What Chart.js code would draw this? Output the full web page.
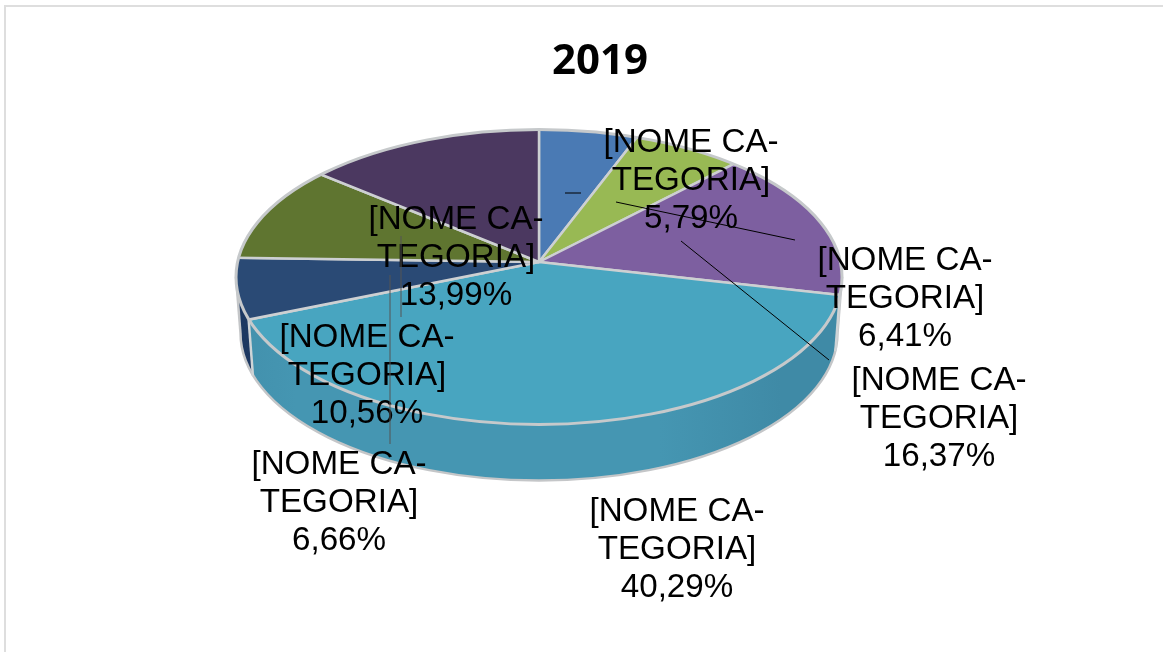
<!DOCTYPE html>
<html lang="en">
<head>
    <meta charset="UTF-8">
    <title>2019</title>
    <script src="https://cdn.jsdelivr.net/npm/chart.js"></script>
    <style>
        html, body {
            margin: 0;
            padding: 0;
            background: white;
            overflow: hidden;
            height: 652px;
        }
        #frame {
            position: absolute;
            left: 4px;
            top: 5px;
            right: 0;
            bottom: 0;
            border-left: 2px solid #dedede;
            border-top: 2px solid #dedede;
        }
        canvas {
            position: absolute;
            left: 0;
            top: 0;
        }
    </style>
</head>
<body>
    <div id="frame"></div>
    <canvas id="pieChart" width="1200" height="652"></canvas>

    <script>
        const chartTitle = '2019';
        const categories = ['[NOME CA-\nTEGORIA]', '[NOME CA-\nTEGORIA]', '[NOME CA-\nTEGORIA]', '[NOME CA-\nTEGORIA]', '[NOME CA-\nTEGORIA]', '[NOME CA-\nTEGORIA]', '[NOME CA-\nTEGORIA]'];
        const values = [5.79, 6.41, 16.37, 40.29, 6.66, 10.56, 13.99];
        const topColors = ['#4a7ab4', '#98b954', '#7d5fa0', '#48a5c0', '#2a4a75', '#5f7530', '#4b3860'];
        const sideColors = ['#3d659a', '#7f9c45', '#8a7f98', '#4596b2', '#1f3a63', '#4c5e26', '#3b2c4c'];

        // where things sit on the page
        const apexX = 539, apexY = 262;          // tip of the slices
        const discY = 277, discW = 303, discH = 147.5; // ellipse of the top face
        const wallDepth = 56, wallNarrow = 0.08;
        const labelSpots = [[691, 143], [905, 261], [939, 381], [677, 512], [339, 465], [367, 338], [456, 220]];
        const leaderLines = [
            [565, 193, 581, 193, '#000'], [616, 202, 795, 240, '#000'], [681, 241, 829, 360, '#000'],
            [401, 236, 401, 317, '#555'], [390, 275, 390, 444, '#555']
        ];

        // perspective of the tilted disc: the near side looks bigger, so slice angles shift on screen
        const tilt = -0.105, spreadX = 301.3, spreadY = 145.9;
        function rimPoint(a) {
            const u = Math.cos(a), v = Math.sin(a);
            const w = 1 + tilt * v;
            return [spreadX * u / w, spreadY * v / w];
        }

        // draws a slice oversized from the apex and lets the disc ellipse cut its outer edge
        function drawSlice(ctx, arc, depth) {
            ctx.save();
            ctx.beginPath();
            ctx.ellipse(apexX, discY + depth, discW - depth * wallNarrow, discH, 0, 0, Math.PI * 2);
            ctx.clip();
            ctx.translate(apexX - arc.x, apexY + depth - arc.y);
            arc.draw(ctx);
            ctx.restore();
        }

        function wallFill(ctx, i) {
            if (i !== 3) return sideColors[i];
            const g = ctx.createLinearGradient(apexX - discW, 0, apexX + discW, 0);
            g.addColorStop(0, '#3f8aa6');
            g.addColorStop(0.2, '#4596b2');
            g.addColorStop(0.8, '#4596b2');
            g.addColorStop(1, '#3f8aa6');
            return g;
        }

        function strokeDisc(ctx, depth, color, width) {
            ctx.strokeStyle = color;
            ctx.lineWidth = width;
            ctx.beginPath();
            ctx.ellipse(apexX, discY + depth, discW - depth * wallNarrow, discH, 0, 0, Math.PI * 2);
            ctx.stroke();
        }

        const tiltedPie = {
            id: 'tiltedPie',
            afterDatasetsUpdate(chart) {
                chart.getDatasetMeta(0).data.forEach(arc => {
                    arc.rimStart = rimPoint(arc.startAngle);
                    arc.rimEnd = rimPoint(arc.endAngle);
                    const start = Math.atan2(arc.rimStart[1], arc.rimStart[0]);
                    let end = Math.atan2(arc.rimEnd[1], arc.rimEnd[0]);
                    while (end < start) end += Math.PI * 2;
                    arc.startAngle = start;
                    arc.endAngle = end;
                    arc.circumference = end - start;
                });
            },
            beforeDatasetsDraw(chart) {
                const ctx = chart.ctx;
                const arcs = chart.getDatasetMeta(0).data;

                // side wall, stacked from the bottom up
                for (let d = wallDepth; d > 0; d--) {
                    arcs.forEach((arc, i) => {
                        const keep = arc.options;
                        arc.options = { ...keep, backgroundColor: wallFill(ctx, i), borderWidth: 0 };
                        drawSlice(ctx, arc, d);
                        arc.options = keep;
                    });
                }
                ctx.save();
                ctx.beginPath();
                ctx.rect(0, discY + wallDepth, 1200, 400);
                ctx.clip();
                strokeDisc(ctx, wallDepth, '#c4c6c8', 2.5);
                ctx.restore();
                // grey sides of the rim between top face and base
                ctx.strokeStyle = '#c4c6c8';
                ctx.lineWidth = 2.5;
                [-1, 1].forEach(side => {
                    ctx.beginPath();
                    ctx.moveTo(apexX + side * discW, discY);
                    ctx.lineTo(apexX + side * (discW - wallDepth * wallNarrow), discY + wallDepth);
                    ctx.stroke();
                });

                // light seam on the wall where the big slice begins and ends
                const big = arcs[3];
                [big.rimStart, big.rimEnd].forEach(([x, y]) => {
                    ctx.strokeStyle = '#cfd4d6';
                    ctx.lineWidth = 2.5;
                    ctx.beginPath();
                    ctx.moveTo(apexX + x, apexY + y);
                    ctx.lineTo(apexX + x * (discW - wallDepth * wallNarrow) / discW, apexY + y + wallDepth);
                    ctx.stroke();
                });

                // top face and its rim
                arcs.forEach(arc => drawSlice(ctx, arc, 0));
                strokeDisc(ctx, 0, '#c6c9cb', 3);

                // data labels and leader lines go on top
                ctx.save();
                ctx.fillStyle = '#000';
                ctx.font = '33.2px "Liberation Sans"';
                ctx.textAlign = 'center';
                ctx.textBaseline = 'middle';
                categories.forEach((cat, i) => {
                    const lines = cat.split('\n').concat(values[i].toFixed(2).replace('.', ',') + '%');
                    lines.forEach((line, n) => {
                        ctx.fillText(line, labelSpots[i][0], labelSpots[i][1] + n * 37.7);
                    });
                });
                ctx.lineWidth = 1;
                leaderLines.forEach(([x1, y1, x2, y2, color]) => {
                    ctx.strokeStyle = color;
                    ctx.beginPath();
                    ctx.moveTo(x1, y1);
                    ctx.lineTo(x2, y2);
                    ctx.stroke();
                });
                ctx.restore();
                return false;
            }
        };

        new Chart(document.getElementById('pieChart'), {
            type: 'pie',
            data: {
                labels: categories,
                datasets: [{
                    data: values,
                    backgroundColor: topColors,
                    borderColor: '#cdd0d2',
                    borderWidth: 2.5
                }]
            },
            options: {
                responsive: false,
                animation: false,
                radius: 420,
                plugins: {
                    legend: { display: false },
                    tooltip: { enabled: false },
                    title: {
                        display: true,
                        text: chartTitle,
                        color: '#000',
                        font: { family: '"Noto Sans"', size: 42, weight: 'bold' },
                        padding: { top: 37, bottom: 0 }
                    }
                }
            },
            plugins: [tiltedPie]
        });
    </script>
</body>
</html>
